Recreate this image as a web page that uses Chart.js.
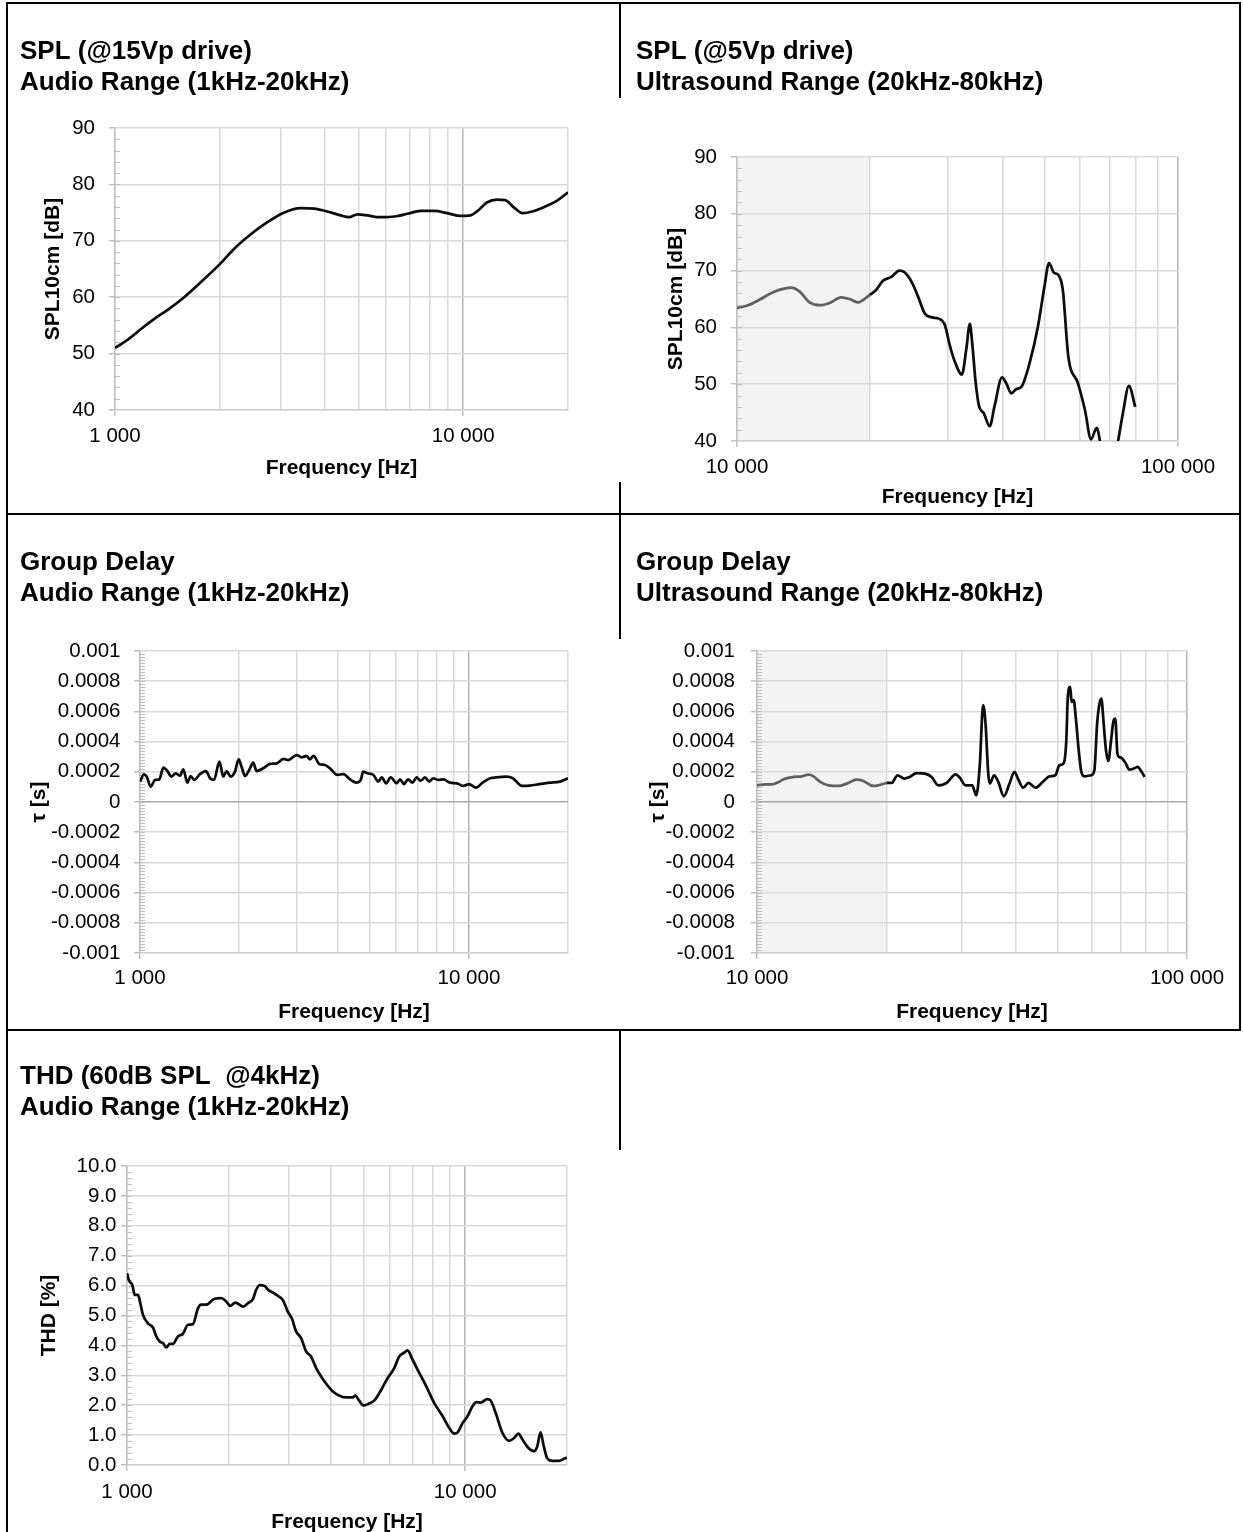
<!DOCTYPE html>
<html>
<head>
<meta charset="utf-8">
<title>Transducer measurements</title>
<script src="https://cdn.jsdelivr.net/npm/chart.js@4.4.1/dist/chart.umd.min.js"></script>
<style>
  html, body { margin: 0; padding: 0; background: #fff; overflow: hidden; }
  #page { position: relative; width: 1243px; height: 1532px; }
  .rule { position: absolute; background: #000; }
  canvas { position: absolute; }
</style>
</head>
<body>
<div id="page"></div>
<script>
// ---- values ----

// SPL @15Vp, audio range
const splAudioHz = [1000, 1090, 1190, 1300, 1420, 1580, 1760, 2010, 2200, 2460, 2740, 3030, 3410, 3730, 4070, 4450, 4700, 4970, 5310, 5670, 6060, 6480, 6920, 7540, 8240, 9000, 9820, 10500, 11000, 11700, 12500, 13200, 14000, 14800, 15800, 17100, 18700, 20000];
const splAudioDb = [51.0, 52.5, 54.4, 56.2, 57.8, 60.0, 62.6, 66.0, 68.6, 71.2, 73.3, 74.9, 75.8, 75.7, 75.2, 74.5, 74.2, 74.7, 74.5, 74.2, 74.2, 74.4, 74.8, 75.3, 75.3, 74.9, 74.4, 74.5, 75.3, 76.8, 77.3, 77.2, 75.9, 74.9, 75.2, 76.0, 77.2, 78.6];

// SPL @5Vp, ultrasound range (grey part below 20 kHz, black part above)
const splLowHz = [10000, 10590, 11260, 12070, 12940, 13280, 13870, 14610, 15400, 16220, 17240, 18000, 18800, 20000];
const splLowDb = [63.4, 63.9, 64.9, 66.2, 66.9, 67.0, 66.3, 64.4, 63.9, 64.3, 65.3, 65.0, 64.4, 65.7];
const splUltraHz = [20000, 20620, 21430, 22390, 23360, 23980, 24850, 25720, 26630, 27570, 28790, 29580, 30360, 31170, 32360, 33100, 33730, 34150, 34780, 35400, 36270, 37410, 38360, 39900, 40760, 41870, 42940, 44200, 46070, 48140, 49790, 50990, 52360, 53450, 54800, 56400, 59300, 61500, 63500, 65400, 66900, 69900, 73000, 75000, 77400, 80000];
const splUltraDb = [65.7, 66.5, 68.2, 68.9, 70.0, 69.7, 68.1, 65.5, 62.5, 61.8, 61.5, 60.5, 56.9, 54.0, 51.7, 56.1, 60.6, 57.2, 50.2, 46.1, 44.9, 42.6, 46.1, 51.2, 50.2, 48.4, 49.1, 49.6, 53.7, 60.2, 67.2, 71.3, 69.6, 69.3, 66.6, 54.9, 50.2, 45.5, 40.3, 42.3, 39.0, 32.0, 39.6, 44.9, 49.7, 46.0];

// group delay, audio range
const delayAudioHz = [1000, 1028, 1048, 1078, 1111, 1145, 1177, 1205, 1248, 1284, 1323, 1354, 1393, 1426, 1462, 1522, 1587, 1633, 1679, 1743, 1792, 1834, 1886, 1944, 1994, 2036, 2085, 2148, 2209, 2262, 2369, 2483, 2603, 2728, 2823, 2993, 3100, 3211, 3281, 3372, 3505, 3652, 3780, 3980, 4150, 4350, 4550, 4690, 4770, 4910, 5120, 5300, 5430, 5600, 5780, 6030, 6170, 6340, 6530, 6730, 6930, 7130, 7350, 7570, 7790, 8070, 8360, 8770, 9180, 9620, 10000, 10500, 11000, 11600, 12100, 13000, 13600, 14500, 15300, 16400, 17600, 18900, 20000];
const delayAudioSec = [1.35e-4, 1.83e-4, 1.68e-4, 1.02e-4, 1.46e-4, 1.50e-4, 2.27e-4, 2.12e-4, 1.68e-4, 1.90e-4, 1.74e-4, 2.16e-4, 1.28e-4, 1.72e-4, 1.46e-4, 1.85e-4, 2.05e-4, 1.57e-4, 1.46e-4, 2.67e-4, 1.68e-4, 2.05e-4, 1.68e-4, 2.01e-4, 2.83e-4, 2.34e-4, 1.72e-4, 2.12e-4, 2.60e-4, 2.05e-4, 2.23e-4, 2.52e-4, 2.56e-4, 2.85e-4, 2.78e-4, 3.11e-4, 2.96e-4, 3.05e-4, 2.83e-4, 3.05e-4, 2.52e-4, 2.45e-4, 2.23e-4, 1.79e-4, 1.85e-4, 1.50e-4, 1.28e-4, 1.46e-4, 2.01e-4, 1.90e-4, 1.79e-4, 1.35e-4, 1.63e-4, 1.24e-4, 1.63e-4, 1.24e-4, 1.50e-4, 1.19e-4, 1.50e-4, 1.28e-4, 1.63e-4, 1.41e-4, 1.63e-4, 1.35e-4, 1.57e-4, 1.46e-4, 1.50e-4, 1.28e-4, 1.24e-4, 1.06e-4, 1.19e-4, 0.95e-4, 1.28e-4, 1.57e-4, 1.63e-4, 1.68e-4, 1.57e-4, 1.06e-4, 1.08e-4, 1.19e-4, 1.28e-4, 1.35e-4, 1.57e-4];

// group delay, ultrasound range
const delayLowHz = [10000, 10450, 10830, 11230, 11630, 12160, 12720, 13180, 13540, 14030, 14670, 15470, 16180, 17060, 17680, 18650, 20000];
const delayLowSec = [1.10e-4, 1.17e-4, 1.17e-4, 1.33e-4, 1.55e-4, 1.66e-4, 1.70e-4, 1.81e-4, 1.70e-4, 1.33e-4, 1.10e-4, 1.06e-4, 1.22e-4, 1.48e-4, 1.39e-4, 1.06e-4, 1.26e-4];
const delayUltraHz = [20000, 20560, 21230, 21990, 22660, 23510, 24570, 25470, 26410, 27590, 28980, 29630, 30540, 31650, 32360, 32950, 33570, 34000, 34500, 34800, 35600, 36400, 37500, 38700, 39700, 40600, 41600, 42800, 44400, 46200, 47900, 49400, 50500, 51700, 52400, 52800, 53500, 53900, 54500, 55200, 55900, 56700, 57700, 59900, 60900, 61800, 62600, 63200, 64000, 64800, 65600, 66600, 67500, 68100, 68900, 69600, 70800, 72100, 73400, 75100, 76900, 78000, 79700];
const delayUltraSec = [1.26e-4, 1.26e-4, 1.77e-4, 1.55e-4, 1.66e-4, 1.92e-4, 1.88e-4, 1.66e-4, 1.10e-4, 1.26e-4, 1.83e-4, 1.61e-4, 1.10e-4, 1.10e-4, 0.44e-4, 2.32e-4, 6.41e-4, 5.19e-4, 1.88e-4, 1.22e-4, 1.77e-4, 1.33e-4, 0.38e-4, 1.26e-4, 1.99e-4, 1.44e-4, 0.95e-4, 1.26e-4, 0.95e-4, 1.33e-4, 1.70e-4, 1.77e-4, 2.43e-4, 2.59e-4, 4.09e-4, 6.85e-4, 7.62e-4, 6.63e-4, 6.74e-4, 5.41e-4, 3.65e-4, 2.10e-4, 1.70e-4, 1.77e-4, 2.10e-4, 5.19e-4, 6.52e-4, 6.85e-4, 5.19e-4, 3.43e-4, 2.72e-4, 4.09e-4, 5.41e-4, 5.52e-4, 3.20e-4, 2.98e-4, 2.87e-4, 2.54e-4, 2.14e-4, 2.21e-4, 2.32e-4, 2.10e-4, 1.66e-4];

// THD @60dB SPL, audio range
const thdHz = [1000, 1014, 1037, 1054, 1078, 1095, 1115, 1153, 1193, 1221, 1249, 1278, 1306, 1337, 1367, 1414, 1464, 1514, 1566, 1621, 1657, 1714, 1814, 1899, 1965, 2019, 2090, 2210, 2277, 2357, 2410, 2466, 2551, 2626, 2698, 2790, 2889, 2989, 3077, 3162, 3272, 3386, 3500, 3625, 3749, 3880, 4060, 4250, 4440, 4650, 4730, 4860, 5000, 5180, 5390, 5630, 5900, 6170, 6380, 6610, 6750, 6990, 7320, 7660, 8100, 8580, 8970, 9280, 9500, 9820, 10160, 10530, 10810, 11120, 11620, 11880, 12310, 12890, 13490, 13950, 14360, 14770, 15380, 15980, 16330, 16700, 17080, 17470, 18080, 18930, 19800, 20000];
const thdPct = [6.41, 6.17, 6.02, 5.69, 5.69, 5.41, 5.02, 4.74, 4.60, 4.30, 4.13, 4.08, 3.93, 4.05, 4.05, 4.30, 4.39, 4.69, 4.71, 5.24, 5.36, 5.36, 5.56, 5.58, 5.47, 5.32, 5.43, 5.30, 5.41, 5.55, 5.86, 6.02, 5.99, 5.84, 5.77, 5.66, 5.52, 5.13, 4.88, 4.47, 4.24, 3.80, 3.63, 3.24, 2.96, 2.72, 2.46, 2.32, 2.26, 2.26, 2.32, 2.15, 1.99, 2.05, 2.16, 2.49, 2.91, 3.24, 3.63, 3.76, 3.83, 3.52, 3.07, 2.65, 2.07, 1.63, 1.24, 1.05, 1.09, 1.40, 1.63, 1.98, 2.10, 2.09, 2.20, 2.16, 1.74, 1.07, 0.81, 0.90, 1.05, 0.85, 0.57, 0.46, 0.62, 1.09, 0.62, 0.23, 0.14, 0.14, 0.23, 0.24];

// axis ticks
const audioGridHz = [1000, 2000, 3000, 4000, 5000, 6000, 7000, 8000, 9000, 10000, 20000];
const ultraGridHz = [10000, 20000, 30000, 40000, 50000, 60000, 70000, 80000, 90000, 100000];
const audioLabelHz = [1000, 10000];
const ultraLabelHz = [10000, 100000];
const splTicks = [40, 50, 60, 70, 80, 90];
const delayTicks = [-0.001, -0.0008, -0.0006, -0.0004, -0.0002, 0, 0.0002, 0.0004, 0.0006, 0.0008, 0.001];
const thdTicks = [0, 1, 2, 3, 4, 5, 6, 7, 8, 9, 10];
const shadedBandHz = [10000, 20000];

// ---- page frame (table rules) ----
const page = document.getElementById('page');
const rules = [
  [6, 2, 1235, 2], [6, 2, 2, 1530], [1239, 2, 2, 1029],
  [6, 513, 1235, 2], [6, 1029, 1235, 2],
  [619, 2, 2, 96], [619, 482, 2, 157], [619, 1029, 2, 121]
];
rules.forEach(r => {
  const d = document.createElement('div');
  d.className = 'rule';
  d.style.left = r[0] + 'px'; d.style.top = r[1] + 'px';
  d.style.width = r[2] + 'px'; d.style.height = r[3] + 'px';
  page.appendChild(d);
});

Chart.defaults.font.family = '"Liberation Sans", Arial, sans-serif';
Chart.defaults.color = '#000';

// light grey band behind the 10-20 kHz part
const shadeBand = {
  id: 'shadeBand',
  beforeDraw(chart, args, opts) {
    if (!opts.range) return;
    const {ctx, chartArea, scales} = chart;
    const x0 = scales.x.getPixelForValue(opts.range[0]);
    const x1 = scales.x.getPixelForValue(opts.range[1]);
    ctx.save();
    ctx.fillStyle = opts.color;
    ctx.fillRect(x0, chartArea.top, x1 - x0, chartArea.bottom - chartArea.top);
    ctx.restore();
  }
};

// small minor tick marks along the value axis
const minorTicks = {
  id: 'minorTicks',
  beforeDatasetsDraw(chart, args, opts) {
    if (!opts.step) return;
    const {ctx, chartArea, scales} = chart;
    const y = scales.y;
    const n = Math.round((y.max - y.min) / opts.step);
    ctx.save();
    ctx.strokeStyle = '#bfbfbf';
    ctx.lineWidth = 1;
    ctx.beginPath();
    for (let i = 1; i < n; i++) {
      const py = Math.round(y.getPixelForValue(y.min + i * opts.step)) + 0.5;
      ctx.moveTo(chartArea.left - 1, py);
      ctx.lineTo(chartArea.left + 5, py);
    }
    ctx.stroke();
    ctx.restore();
  }
};
Chart.register(shadeBand, minorTicks);

function spaced(v) {
  return String(Math.round(v)).replace(/\B(?=(\d{3})+(?!\d))/g, ' ');
}

function points(xs, ys) {
  return xs.map((x, i) => ({x: x, y: ys[i]}));
}

const TITLE_LH = 31, AXIS_LH = 25, TICK_LEN = 6, TICK_SIZE = 20.5;

function drawChart(spec) {
  const [cx, cy, cw, ch] = spec.box;
  const [L, T, R, B] = spec.plot;
  const canvas = document.createElement('canvas');
  canvas.width = cw;
  canvas.height = ch;
  canvas.style.left = cx + 'px';
  canvas.style.top = cy + 'px';
  page.appendChild(canvas);

  const titleTop = spec.titleY - cy - TITLE_LH / 2;
  const tickLH = TICK_SIZE * 1.2;

  new Chart(canvas, {
    type: 'line',
    data: {
      datasets: spec.series.map(s => ({
        data: points(s.x, s.y),
        borderColor: s.color,
        borderWidth: 2.75,
        pointRadius: 0,
        fill: false,
        cubicInterpolationMode: 'monotone'
      }))
    },
    options: {
      responsive: false,
      animation: false,
      devicePixelRatio: 1,
      events: [],
      layout: { padding: { left: 0, top: 0, bottom: 0, right: cx + cw - R } },
      plugins: {
        legend: { display: false },
        tooltip: { enabled: false },
        title: {
          display: true,
          text: spec.title,
          align: 'start',
          color: '#000',
          font: { size: 26, weight: 'bold', lineHeight: TITLE_LH / 26 },
          padding: { top: titleTop, bottom: (T - cy) - titleTop - 2 * TITLE_LH }
        },
        shadeBand: { range: spec.band, color: '#f2f2f2' },
        minorTicks: { step: spec.minorStep }
      },
      scales: {
        x: {
          type: 'logarithmic',
          min: spec.xGrid[0],
          max: spec.xGrid[spec.xGrid.length - 1],
          afterBuildTicks: s => { s.ticks = spec.xGrid.map(v => ({value: v})); },
          afterFit: s => { s.height = cy + ch - B; },
          grid: {
            color: c => (c.tick && spec.xLabels.includes(c.tick.value) && c.tick.value !== spec.xGrid[0]) ? '#b4b4b4' : '#d9d9d9',
            lineWidth: 1.5,
            tickLength: TICK_LEN,
            tickColor: c => (c.tick && spec.xLabels.includes(c.tick.value)) ? '#bfbfbf' : 'rgba(0,0,0,0)'
          },
          border: { color: '#d0d0d0', width: 1.5 },
          ticks: {
            autoSkip: false,
            maxRotation: 0,
            font: { size: TICK_SIZE, lineHeight: 1.2 },
            padding: spec.xLabelY - B - TICK_LEN - tickLH / 2,
            callback: v => spec.xLabels.includes(v) ? spaced(v) : ''
          },
          title: {
            display: true,
            text: 'Frequency [Hz]',
            font: { size: 21, weight: 'bold', lineHeight: AXIS_LH / 21 },
            padding: { top: 0, bottom: (cy + ch) - spec.xTitleY - AXIS_LH / 2 }
          }
        },
        y: {
          type: 'linear',
          min: spec.yTicks[0],
          max: spec.yTicks[spec.yTicks.length - 1],
          afterBuildTicks: s => { s.ticks = spec.yTicks.map(v => ({value: v})); },
          afterFit: s => { s.width = L - cx; },
          grid: {
            color: c => (spec.zeroLine && c.tick && c.tick.value === 0) ? '#a8a8a8' : '#d9d9d9',
            lineWidth: 1.5,
            tickLength: TICK_LEN,
            tickColor: '#bfbfbf'
          },
          border: { color: '#bfbfbf', width: 1.5 },
          ticks: {
            font: { size: TICK_SIZE, lineHeight: 1.2 },
            padding: L - TICK_LEN - spec.yLabelRight,
            callback: spec.yFormat
          },
          title: {
            display: true,
            text: spec.yTitle,
            font: { size: 21, weight: 'bold', lineHeight: AXIS_LH / 21 },
            padding: { top: spec.yTitleX - cx - AXIS_LH / 2, bottom: 0 }
          }
        }
      }
    }
  });
}

const fmtInt = v => String(Math.round(v));
const fmtDelay = v => String(Number(v.toFixed(4)));
const fmtThd = v => v.toFixed(1);

drawChart({
  box: [20, 5, 595, 479], plot: [115, 128, 568, 410],
  titleY: 52, yTitleX: 53, yLabelRight: 95, xLabelY: 436, xTitleY: 468,
  title: ['SPL (@15Vp drive)', 'Audio Range (1kHz-20kHz)'],
  yTitle: 'SPL10cm [dB]', yTicks: splTicks, yFormat: fmtInt, minorStep: 2,
  xGrid: audioGridHz, xLabels: audioLabelHz,
  series: [{x: splAudioHz, y: splAudioDb, color: '#0d0d0d'}]
});

drawChart({
  box: [636, 5, 607, 510], plot: [737, 157, 1178, 441],
  titleY: 52, yTitleX: 676, yLabelRight: 717, xLabelY: 467, xTitleY: 497,
  title: ['SPL (@5Vp drive)', 'Ultrasound Range (20kHz-80kHz)'],
  yTitle: 'SPL10cm [dB]', yTicks: splTicks, yFormat: fmtInt, minorStep: 2,
  xGrid: ultraGridHz, xLabels: ultraLabelHz, band: shadedBandHz,
  series: [
    {x: splLowHz, y: splLowDb, color: '#606060'},
    {x: splUltraHz, y: splUltraDb, color: '#0d0d0d'}
  ]
});

drawChart({
  box: [20, 520, 595, 508], plot: [140, 651, 568, 953],
  titleY: 563, yTitleX: 39.5, yLabelRight: 120.5, xLabelY: 978, xTitleY: 1012,
  title: ['Group Delay', 'Audio Range (1kHz-20kHz)'],
  yTitle: 'τ [s]', yTicks: delayTicks, yFormat: fmtDelay, minorStep: 0.00002, zeroLine: true,
  xGrid: audioGridHz, xLabels: audioLabelHz,
  series: [{x: delayAudioHz, y: delayAudioSec, color: '#0d0d0d'}]
});

drawChart({
  box: [636, 520, 607, 508], plot: [757, 651, 1187, 953],
  titleY: 563, yTitleX: 658, yLabelRight: 735, xLabelY: 978, xTitleY: 1012,
  title: ['Group Delay', 'Ultrasound Range (20kHz-80kHz)'],
  yTitle: 'τ [s]', yTicks: delayTicks, yFormat: fmtDelay, minorStep: 0.00002, zeroLine: true,
  xGrid: ultraGridHz, xLabels: ultraLabelHz, band: shadedBandHz,
  series: [
    {x: delayLowHz, y: delayLowSec, color: '#606060'},
    {x: delayUltraHz, y: delayUltraSec, color: '#0d0d0d'}
  ]
});

drawChart({
  box: [20, 1036, 595, 502], plot: [127, 1166, 567, 1465],
  titleY: 1077, yTitleX: 49.5, yLabelRight: 116.5, xLabelY: 1492, xTitleY: 1522,
  title: ['THD (60dB SPL  @4kHz)', 'Audio Range (1kHz-20kHz)'],
  yTitle: 'THD [%]', yTicks: thdTicks, yFormat: fmtThd, minorStep: 0.2,
  xGrid: audioGridHz, xLabels: audioLabelHz,
  series: [{x: thdHz, y: thdPct, color: '#0d0d0d'}]
});
</script>
</body>
</html>
